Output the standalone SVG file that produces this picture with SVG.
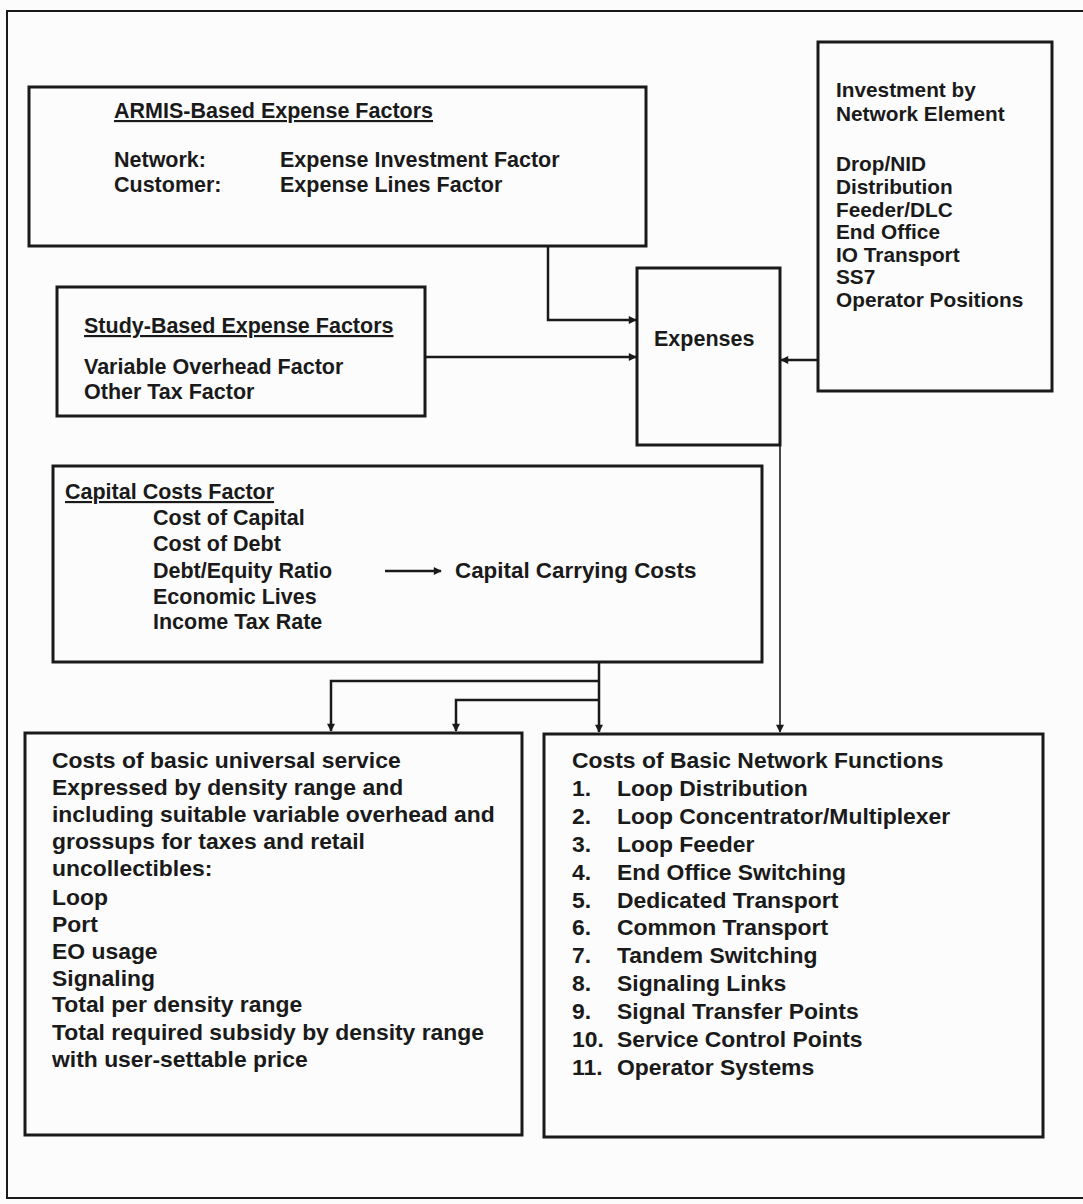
<svg xmlns="http://www.w3.org/2000/svg" width="1083" height="1204" viewBox="0 0 1083 1204">
  <defs>
    <marker id="head" viewBox="0 0 10 10" refX="9" refY="5" markerWidth="9" markerHeight="8" markerUnits="userSpaceOnUse" orient="auto">
      <path d="M0,0 L10,5 L0,10 z" fill="#1a1a1a"/>
    </marker>
    <marker id="headSmall" viewBox="0 0 10 10" refX="9" refY="5" markerWidth="10" markerHeight="8" markerUnits="userSpaceOnUse" orient="auto">
      <path d="M0,0 L10,5 L0,10 z" fill="#1a1a1a"/>
    </marker>
  </defs>
  <style>
    .box { fill: none; stroke: #1a1a1a; stroke-width: 3; }
    .frame { fill: none; stroke: #1a1a1a; stroke-width: 2; }
    .t { font-family: "Liberation Sans", Arial, sans-serif; font-weight: bold; fill: #1a1a1a; }
    .s20 { font-size: 20.8px; }
    .s21 { font-size: 21.5px; }
    .s23 { font-size: 22.9px; }
    .u { text-decoration: underline; }
    .wire { fill: none; stroke: #1a1a1a; stroke-width: 2.5; }
    .thin { fill: none; stroke: #1a1a1a; stroke-width: 1.6; }
  </style>

  <rect width="1083" height="1204" fill="#fcfcfc"/>

  <!-- page frame -->
  <rect class="frame" x="7" y="11" width="1090" height="1187"/>

  <g id="armis">
    <rect class="box" x="29" y="87" width="617" height="159"/>
    <text class="t s21 u" x="114" y="118">ARMIS-Based Expense Factors</text>
    <text class="t s21" x="114" y="167">Network:</text>
    <text class="t s21" x="280" y="167">Expense Investment Factor</text>
    <text class="t s21" x="114" y="192">Customer:</text>
    <text class="t s21" x="280" y="192">Expense Lines Factor</text>
  </g>

  <g id="investment">
    <rect class="box" x="818" y="42" width="234" height="349"/>
    <text class="t s20" x="836" y="97">Investment by</text>
    <text class="t s20" x="836" y="121">Network Element</text>
    <text class="t s20" x="836" y="171">Drop/NID</text>
    <text class="t s20" x="836" y="194">Distribution</text>
    <text class="t s20" x="836" y="217">Feeder/DLC</text>
    <text class="t s20" x="836" y="239">End Office</text>
    <text class="t s20" x="836" y="262">IO Transport</text>
    <text class="t s20" x="836" y="284">SS7</text>
    <text class="t s20" x="836" y="307">Operator Positions</text>
  </g>

  <g id="study">
    <rect class="box" x="57" y="287" width="368" height="129"/>
    <text class="t s21 u" x="84" y="333">Study-Based Expense Factors</text>
    <text class="t s21" x="84" y="374">Variable Overhead Factor</text>
    <text class="t s21" x="84" y="399">Other Tax Factor</text>
  </g>

  <g id="expenses">
    <rect class="box" x="637" y="268" width="143" height="177"/>
    <text class="t s21" x="654" y="346">Expenses</text>
  </g>

  <g id="capital">
    <rect class="box" x="53" y="466" width="709" height="196"/>
    <text class="t s21 u" x="65" y="499">Capital Costs Factor</text>
    <text class="t s21" x="153" y="525">Cost of Capital</text>
    <text class="t s21" x="153" y="551">Cost of Debt</text>
    <text class="t s21" x="153" y="578">Debt/Equity Ratio</text>
    <text class="t s21" x="153" y="604">Economic Lives</text>
    <text class="t s21" x="153" y="629">Income Tax Rate</text>
    <line class="wire" x1="385" y1="571" x2="441" y2="571" marker-end="url(#headSmall)"/>
    <text class="t" style="font-size:22.4px" x="455" y="578">Capital Carrying Costs</text>
  </g>

  <g id="universal">
    <rect class="box" x="25" y="733" width="497" height="402"/>
    <text class="t s23" x="52" y="768">Costs of basic universal service</text>
    <text class="t s23" x="52" y="795">Expressed by density range and</text>
    <text class="t s23" x="52" y="822">including suitable variable overhead and</text>
    <text class="t s23" x="52" y="849">grossups for taxes and retail</text>
    <text class="t s23" x="52" y="876">uncollectibles:</text>
    <text class="t s23" x="52" y="905">Loop</text>
    <text class="t s23" x="52" y="932">Port</text>
    <text class="t s23" x="52" y="959">EO usage</text>
    <text class="t s23" x="52" y="986">Signaling</text>
    <text class="t s23" x="52" y="1012">Total per density range</text>
    <text class="t s23" x="52" y="1040">Total required subsidy by density range</text>
    <text class="t s23" x="52" y="1067">with user-settable price</text>
  </g>

  <g id="functions">
    <rect class="box" x="544" y="734" width="499" height="403"/>
    <text class="t s23" x="572" y="768">Costs of Basic Network Functions</text>
    <text class="t s23" x="572" y="796">1.</text><text class="t s23" x="617" y="796">Loop Distribution</text>
    <text class="t s23" x="572" y="824">2.</text><text class="t s23" x="617" y="824">Loop Concentrator/Multiplexer</text>
    <text class="t s23" x="572" y="852">3.</text><text class="t s23" x="617" y="852">Loop Feeder</text>
    <text class="t s23" x="572" y="880">4.</text><text class="t s23" x="617" y="880">End Office Switching</text>
    <text class="t s23" x="572" y="908">5.</text><text class="t s23" x="617" y="908">Dedicated Transport</text>
    <text class="t s23" x="572" y="935">6.</text><text class="t s23" x="617" y="935">Common Transport</text>
    <text class="t s23" x="572" y="963">7.</text><text class="t s23" x="617" y="963">Tandem Switching</text>
    <text class="t s23" x="572" y="991">8.</text><text class="t s23" x="617" y="991">Signaling Links</text>
    <text class="t s23" x="572" y="1019">9.</text><text class="t s23" x="617" y="1019">Signal Transfer Points</text>
    <text class="t s23" x="572" y="1047">10.</text><text class="t s23" x="617" y="1047">Service Control Points</text>
    <text class="t s23" x="572" y="1075">11.</text><text class="t s23" x="617" y="1075">Operator Systems</text>
  </g>

  <g id="connectors">
    <polyline class="wire" points="548,246 548,320 636,320" marker-end="url(#head)"/>
    <line class="wire" x1="425" y1="357" x2="636" y2="357" marker-end="url(#head)"/>
    <line class="wire" x1="818" y1="360" x2="781" y2="360" marker-end="url(#head)"/>
    <line class="thin" x1="780" y1="445" x2="780" y2="732" marker-end="url(#head)"/>
    <line class="wire" x1="599" y1="662" x2="599" y2="732" marker-end="url(#head)"/>
    <polyline class="wire" points="599,681 331,681 331,731" marker-end="url(#head)"/>
    <polyline class="wire" points="599,700 456,700 456,731" marker-end="url(#head)"/>
  </g>
</svg>
